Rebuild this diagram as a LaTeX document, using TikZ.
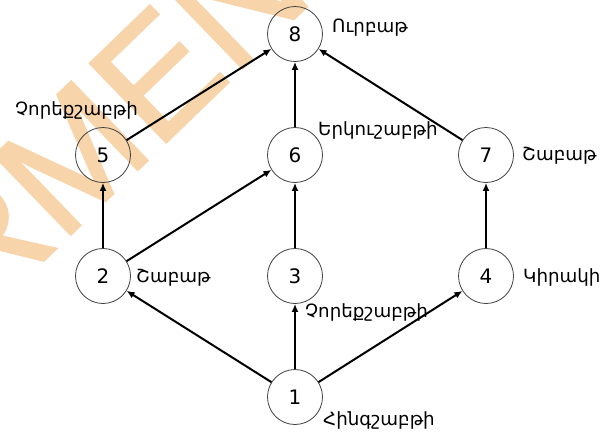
\documentclass[tikz,border=0pt]{standalone}
\usepackage{fontspec}
\setmainfont{DejaVu Sans}
\newfontfamily\wmfont[FakeBold=1.5]{Liberation Sans}
\usetikzlibrary{arrows.meta}
\definecolor{wmorange}{RGB}{247,212,170}
\begin{document}
\begin{tikzpicture}[x=1bp,y=-1bp,
  day/.style={circle, draw=black!75, line width=0.8bp, minimum size=55bp, inner sep=0pt,
    font=\fontsize{20}{20}\selectfont},
  lbl/.style={anchor=west, inner sep=0pt, font=\fontsize{18.3}{18.3}\selectfont},
  edge/.style={line width=2bp, -{Latex[length=8bp,width=7bp]}}]
\useasboundingbox (0,0) rectangle (612,431);
% faint watermark behind the graph
\begin{scope}
  \clip (0,0) rectangle (612,431);
  \node[rotate=44, text=wmorange, inner sep=0pt,
    font=\wmfont\fontsize{160}{160}\selectfont] (wm) at (71,158) {ARMEN};
\end{scope}
% vertices
\node[day] (n8) at (295,34)  {8};
\node[day] (n5) at (103,155) {5};
\node[day] (n6) at (295,155) {6};
\node[day] (n7) at (486,155) {7};
\node[day] (n2) at (103,276) {2};
\node[day] (n3) at (295,276) {3};
\node[day] (n4) at (486,276) {4};
\node[day] (n1) at (295,397) {1};
% day names
\node[lbl] (t8) at (332,28)  {Ուրբաթ};
\node[lbl] (t5) at (15,110)  {Չորեքշաբթի};
\node[lbl] (t6) at (318,130) {Երկուշաբթի};
\node[lbl] (t7) at (522,156) {Շաբաթ};
\node[lbl] (t2) at (136,278) {Շաբաթ};
\node[lbl] (t3) at (305,312) {Չորեքշաբթի};
\node[lbl] (t4) at (523,277) {Կիրակի};
\node[lbl] (t1) at (323,420) {Հինգշաբթի};
% edges
\draw[edge] (n1) -- (n2);
\draw[edge] (n1) -- (n3);
\draw[edge] (n1) -- (n4);
\draw[edge] (n2) -- (n5);
\draw[edge] (n2) -- (n6);
\draw[edge] (n3) -- (n6);
\draw[edge] (n4) -- (n7);
\draw[edge] (n5) -- (n8);
\draw[edge] (n6) -- (n8);
\draw[edge] (n7) -- (n8);
\end{tikzpicture}
\end{document}
